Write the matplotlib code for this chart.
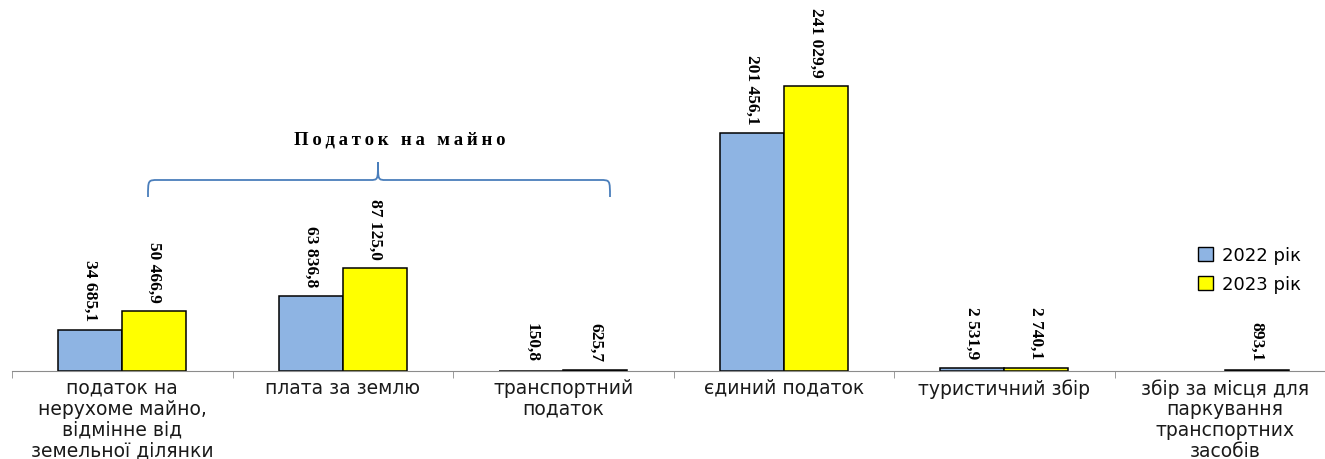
import numpy as np
import matplotlib.pyplot as plt
from matplotlib.path import Path
from matplotlib.patches import PathPatch, Patch

# ---data--- #
categories = ['податок на\nнерухоме майно,\nвідмінне від\nземельної ділянки',
              'плата за землю',
              'транспортний\nподаток',
              'єдиний податок',
              'туристичний збір',
              'збір за місця для\nпаркування\nтранспортних\nзасобів']
y2022 = [34685.1, 63836.8, 150.8, 201456.1, 2531.9, np.nan]
y2023 = [50466.9, 87125.0, 625.7, 241029.9, 2740.1, 893.1]
series_names = ['2022 рік', '2023 рік']
bracket_title = 'Податок на майно'


def fmt(v):
    s = f'{v:,.1f}'
    return s.replace(',', ' ').replace('.', ',')


fig = plt.figure(figsize=(13.25, 4.6), dpi=100)
ax = fig.add_axes([12 / 1325, 88 / 460, 1323 / 1325, 372 / 460])

x = np.arange(len(categories))
w = 0.29
c_blue = '#8EB4E3'
c_yel = '#FFFF00'
ax.bar(x - w / 2, y2022, w, color=c_blue, edgecolor='black', linewidth=1.1)
ax.bar(x + w / 2, y2023, w, color=c_yel, edgecolor='black', linewidth=1.1)

# value labels, rotated 270
lab_font = dict(family=['Liberation Serif', 'DejaVu Serif'], weight='bold', size=12.5)
for xs, vals in ((x - w / 2, y2022), (x + w / 2, y2023)):
    for xi, v in zip(xs, vals):
        if np.isnan(v):
            continue
        ax.annotate(fmt(v), (xi, v), xytext=(0, 7), textcoords='offset points',
                    ha='center', va='bottom', rotation=270, **lab_font)

ax.set_xlim(-0.5, len(categories) - 0.5)
ax.set_ylim(0, 315000)
for s in ('top', 'right', 'left'):
    ax.spines[s].set_visible(False)
ax.spines['bottom'].set_color('#8c8c8c')
ax.set_yticks([])
ax.set_xticks(x)
ax.set_xticklabels(categories, fontsize=13.5, family='DejaVu Sans', linespacing=1.12)
ax.set_xticks(np.arange(-0.5, len(categories)), minor=True)
ax.tick_params(axis='x', which='major', length=0, pad=5, colors='#1a1a1a')
ax.tick_params(axis='x', which='minor', length=5, color='#8c8c8c')

# legend
H = 460.0
handles = [Patch(facecolor=c_blue, edgecolor='black', linewidth=1.0),
           Patch(facecolor=c_yel, edgecolor='black', linewidth=1.0)]
fig.legend(handles, series_names, loc='upper left', bbox_to_anchor=(1182 / 1325, 1 - 231 / H),
           frameon=False, prop={'family': 'DejaVu Sans', 'size': 13},
           handlelength=0.8, handleheight=0.8, handletextpad=0.5, labelspacing=0.62)


# curly bracket over property tax group (figure pixels)
def P(px, py):
    return (px / 1325, 1 - py / H)


xl, xr, xm = 148, 610, 378
yb, yl, yt = 198, 181, 163
verts = [P(xl, yb), P(xl, yl), P(xl, yl), P(xl + 10, yl),
         P(xm - 8, yl),
         P(xm, yl), P(xm, yl), P(xm, yt),
         P(xm, yl), P(xm, yl), P(xm + 8, yl),
         P(xr - 10, yl),
         P(xr, yl), P(xr, yl), P(xr, yb)]
codes = [Path.MOVETO, Path.CURVE4, Path.CURVE4, Path.CURVE4,
         Path.LINETO,
         Path.CURVE4, Path.CURVE4, Path.CURVE4,
         Path.CURVE4, Path.CURVE4, Path.CURVE4,
         Path.LINETO,
         Path.CURVE4, Path.CURVE4, Path.CURVE4]
fig.patches.append(PathPatch(Path(verts, codes), transform=fig.transFigure,
                             facecolor='none', edgecolor='#4a7ebb', linewidth=1.3))
fig.text(400 / 1325, 1 - 140 / H, '\u2009'.join(bracket_title), ha='center', va='center',
         family=['Liberation Serif', 'DejaVu Serif'], weight='bold', size=13.5)

fig.savefig('out.png', dpi=100)
